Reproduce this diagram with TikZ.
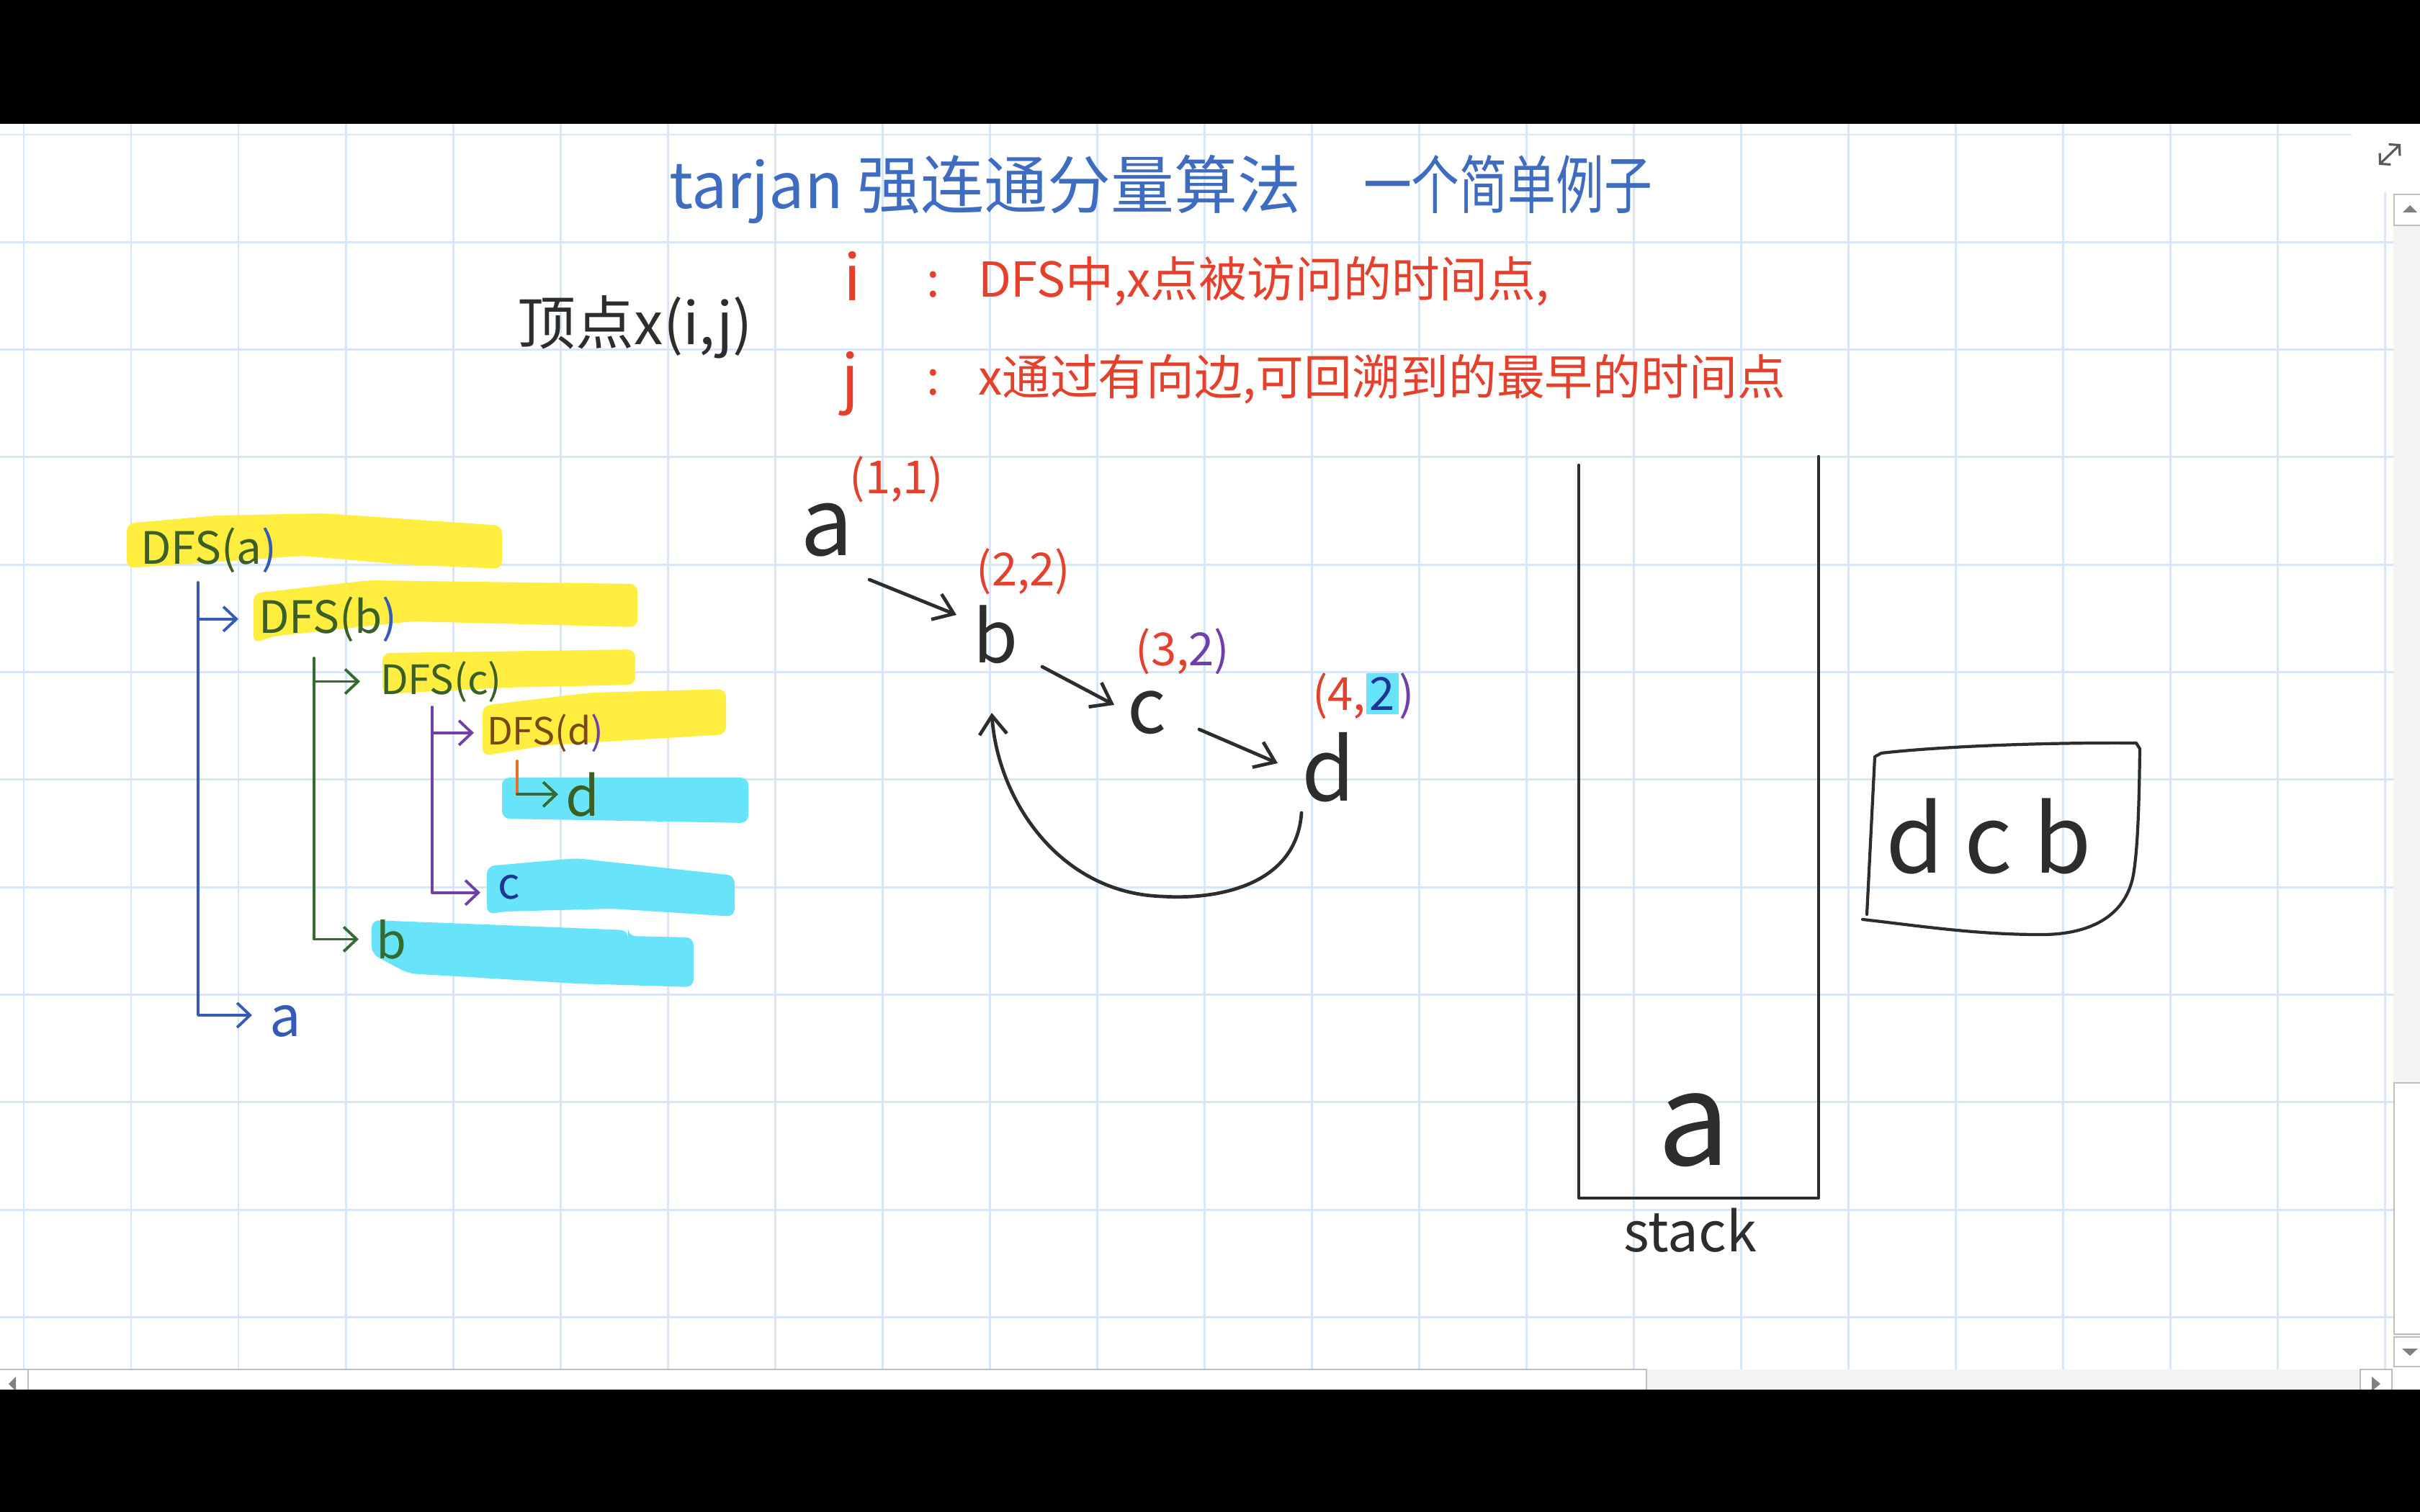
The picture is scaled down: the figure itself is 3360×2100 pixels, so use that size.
\documentclass[tikz,border=0pt]{standalone}
\usepackage{fontspec}
\usepackage{graphicx}
\setmainfont{Noto Sans CJK SC}
\usetikzlibrary{arrows.meta,calc}

\definecolor{gridblue}{RGB}{213,231,248}
\definecolor{inkblack}{RGB}{45,45,45}
\definecolor{titleblue}{RGB}{62,108,192}
\definecolor{inkred}{RGB}{228,64,44}
\definecolor{treeblue}{RGB}{52,92,182}
\definecolor{treegreen}{RGB}{52,108,48}
\definecolor{dfsgreen}{RGB}{58,96,38}
\definecolor{treepurple}{RGB}{112,64,170}
\definecolor{treebrown}{RGB}{122,72,22}
\definecolor{treeorange}{RGB}{232,112,40}
\definecolor{inknavy}{RGB}{30,52,150}
\definecolor{hlyellow}{RGB}{255,238,64}
\definecolor{hlcyan}{RGB}{104,228,250}
\definecolor{barback}{RGB}{243,243,243}
\definecolor{barline}{RGB}{190,190,190}
\definecolor{bartip}{RGB}{128,128,128}

\newcommand{\pxfont}[1]{\fontsize{#1}{#1}\selectfont}
\setlength{\fboxsep}{1.5pt}

\begin{document}
\begin{tikzpicture}[
  x=0.01cm, y=-0.01cm,
  txt/.style={inner sep=0pt, outer sep=0pt},
  vtx/.style={txt, text=inkblack},
  ink/.style={draw=inkblack, line width=1.2pt, line cap=round, line join=round},
  edge/.style={ink, line width=1.35pt, -{Straight Barb[length=2.6mm, width=3.8mm]}},
  branch/.style={line width=1.1pt, line cap=round, line join=round},
  twig/.style={branch, -{Straight Barb[length=1.8mm, width=3.4mm]}},
  gridline/.style={draw=gridblue, line width=0.85pt},
  barbox/.style={draw=barline, fill=white, line width=0.6pt},
]
\useasboundingbox (0,0) rectangle (3360,2100);

% === PAGE ===
\fill[white] (0,172) rectangle (3360,1930);
\foreach \gx in {0,...,21}
  \draw[gridline] ({33+149*\gx},172) -- ({33+149*\gx},1902);
\draw[gridline] (3311,267) -- (3311,1902);
\draw[gridline] (0,187) -- (3265,187);
\foreach \gy in {1,...,11}
  \draw[gridline] (0,{187+149.3*\gy}) -- (3323,{187+149.3*\gy});

% scroll bars
\fill[barback] (3323,313) rectangle (3360,1857);
\draw[barbox] (3324,270) rectangle (3362,313);
\fill[bartip] (3336,295) -- (3356,295) -- (3346,285) -- cycle;
\draw[barbox] (3324,1504) rectangle (3362,1853);
\draw[barbox] (3324,1857) rectangle (3362,1898);
\fill[bartip] (3335,1873) -- (3357,1873) -- (3346,1883) -- cycle;
\fill[barback] (0,1902) rectangle (3323,1930);
\draw[barbox] (-2,1902) rectangle (39,1934);
\fill[bartip] (12,1922) -- (22,1912) -- (22,1932) -- cycle;
\draw[barbox] (39,1902) rectangle (2286,1934);
\draw[barbox] (3277,1902) rectangle (3321,1934);
\fill[bartip] (3305,1922) -- (3293,1912) -- (3293,1932) -- cycle;
\draw[bartip!70!black, line width=0.9pt, {Straight Barb[length=1mm, width=2.2mm]}-{Straight Barb[length=1mm, width=2.2mm]}] (3303,229) -- (3333,200);

\fill[black] (0,0) rectangle (3360,172);
\fill[black] (0,1930) rectangle (3360,2100);

% === TITLE AND DEFINITIONS ===
\node[txt, anchor=base west, text=titleblue, font=\pxfont{25}] (title) at (929,290) {tarjan 强连通分量算法};
\node[txt, anchor=base west, text=titleblue, font=\pxfont{25}] (subtitle) at (1893,290) {\scalebox{0.76}[1]{一个简单例子}};

\node[txt, anchor=base, text=inkblack, font=\pxfont{23}] (vdef) at (882,478) {顶点x(i,j)};
\node[txt, anchor=base, text=inkred, font=\pxfont{25}] (symi) at (1184,417) {i};
\node[txt, anchor=base, text=inkred, font=\pxfont{19}] (coli) at (1296,412) {:};
\node[txt, anchor=base west, text=inkred, font=\pxfont{19}] (defi) at (1358,412) {DFS中,x点被访问的时间点,};
\node[txt, anchor=base, text=inkred, font=\pxfont{25}] (symj) at (1181,556) {j};
\node[txt, anchor=base, text=inkred, font=\pxfont{19}] (colj) at (1296,548) {:};
\node[txt, anchor=base west, text=inkred, font=\pxfont{19}] (defj) at (1358,548) {x通过有向边,可回溯到的最早的时间点};

% === DFS CALL TREE ===
\fill[hlyellow, rounded corners=3pt] (176,727) -- (300,716) -- (450,713) -- (697,730) -- (697,790) -- (560,784) -- (420,772) -- (176,789) -- cycle;
\fill[hlyellow, rounded corners=3pt] (352,824) -- (513,806) -- (885,811) -- (885,871) -- (573,863) -- (377,884) -- (352,894) -- cycle;
\fill[hlyellow, rounded corners=3pt] (531,907) -- (882,902) -- (882,951) -- (700,955) -- (531,964) -- cycle;
\fill[hlyellow, rounded corners=3pt] (670,980) -- (820,962) -- (1008,957) -- (1008,1020) -- (760,1035) -- (670,1050) -- cycle;
\fill[hlcyan, rounded corners=3pt] (697,1080) -- (1039,1080) -- (1039,1143) -- (697,1137) -- cycle;
\fill[hlcyan, rounded corners=3pt] (676,1203) -- (800,1192) -- (1020,1216) -- (1020,1273) -- (850,1262) -- (700,1266) -- (676,1270) -- cycle;
\fill[hlcyan, rounded corners=3pt] (516,1278) -- (700,1285) -- (872,1292) -- (872,1300) -- (963,1302) -- (963,1371) -- (800,1366) -- (567,1352) -- (516,1325) -- cycle;

\node[txt, anchor=base west, text=dfsgreen, font=\pxfont{17.6}] (dfsa) at (195,783) {DFS(a{\color{treeblue})}};
\node[txt, anchor=base west, text=dfsgreen, font=\pxfont{17.6}] (dfsb) at (359,879) {DFS(b{\color{treeblue})}};
\node[txt, anchor=base west, text=dfsgreen, font=\pxfont{16}] (dfsc) at (528,964) {DFS(c)};
\node[txt, anchor=base west, text=treebrown, font=\pxfont{14.8}] (dfsd) at (676,1034) {DFS(d{\color{treepurple})}};
\node[txt, anchor=base west, text=dfsgreen, font=\pxfont{21.6}] (td) at (785,1133) {d};
\node[txt, anchor=base west, text=inknavy, font=\pxfont{17}] (tc) at (691,1248) {c};
\node[txt, anchor=base west, text=treegreen, font=\pxfont{19.3}] (tb) at (522,1331) {b};
\node[txt, anchor=base west, text=treeblue, font=\pxfont{22}] (ta) at (374,1439) {a};

\coordinate (kblue) at (275,809);
\coordinate (kgreen) at (436,914);
\coordinate (kpurple) at (600,982);
\coordinate (korange) at (718,1057);

\draw[twig, treeblue] (kblue) |- ([xshift=-2.4mm, yshift=0.8mm]ta.west);
\draw[twig, treeblue] (kblue |- dfsb.west) -- ([xshift=-2.8mm]dfsb.west);
\draw[twig, treegreen] (kgreen) |- ([xshift=-2.4mm]tb.west);
\draw[twig, treegreen] (kgreen |- dfsc.west) -- ([xshift=-2.8mm]dfsc.west);
\draw[twig, treepurple] (kpurple) |- ([xshift=-2.4mm, yshift=-0.8mm]tc.west);
\draw[twig, treepurple] (kpurple |- dfsd.west) -- ([xshift=-1.8mm]dfsd.west);
\draw[branch, treeorange] (korange) -- (korange |- td.west);
\draw[twig, treegreen] (korange |- td.west) -- ([xshift=-1.0mm]td.west);

% === GRAPH ===
\node[vtx, font=\pxfont{37}] (va) at (1148,736) {a};
\node[vtx, font=\pxfont{28.5}] (vb) at (1382,881) {b};
\node[vtx, font=\pxfont{30}] (vc) at (1592,990) {c};
\node[vtx, font=\pxfont{34}] (vd) at (1845,1066) {d};

\node[txt, text=inkred, font=\pxfont{18}] (la) at (1245,666) {(1,1)};
\node[txt, text=inkred, font=\pxfont{18}] (lb) at (1421,794) {(2,2)};
\node[txt, text=inkred, font=\pxfont{18}] (lc) at (1642,905) {(3,{\color{treepurple}2)}};
\node[txt, text=inkred, font=\pxfont{18}] (ld) at (1893,967) {(4,\colorbox{hlcyan}{\color{inknavy}2}{\color{treepurple})}};

\draw[edge] ($(va)+(59,69)$) -- ($(vb)+(-54,-27)$);
\draw[edge] ($(vb)+(65,45)$) -- ($(vc)+(-45,-11)$);
\draw[edge] ($(vc)+(73,23)$) -- ($(vd)+(-71,-6)$);
\draw[edge] ($(vd)+(-38,63)$) .. controls (1800,1230) and (1690,1250) .. (1613,1245)
  .. controls (1470,1240) and (1385,1110) .. ($(vb)+(-5,109)$);

% === STACK ===
\draw[ink] (2192,646) -- (2192,1664) -- (2525,1664) -- (2525,634);
\node[vtx, font=\pxfont{51}] (sa) at (2352,1570) {a};
\node[txt, anchor=base, text=inkblack, font=\pxfont{21.6}] (stk) at (2347,1738) {stack};

\node[txt, anchor=base, text=inkblack, font=\pxfont{37}] (scc) at (2761,1212) {d c b};
\draw[ink] (2592,1270) -- (2603,1051) -- (2612,1046) .. controls (2700,1036) and (2850,1031) .. (2966,1032)
  -- (2971,1040) .. controls (2970,1120) and (2968,1180) .. (2962,1215)
  .. controls (2950,1280) and (2890,1299) .. (2830,1298)
  .. controls (2740,1298) and (2650,1284) .. (2586,1277);
\end{tikzpicture}
\end{document}
